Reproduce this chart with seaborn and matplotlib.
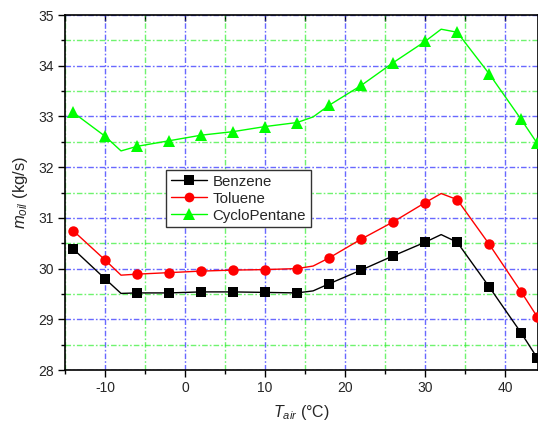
import matplotlib
matplotlib.use("Agg")
import matplotlib.pyplot as plt
from matplotlib.lines import Line2D
from matplotlib.ticker import MultipleLocator, NullFormatter
import seaborn as sns
import pandas as pd

# Air temperature (°C) and oil mass flow rate (kg/s) for each working fluid
t_air = [-14, -10, -8, -6, -2, 2, 6, 10, 14, 16, 18, 22, 26, 30, 32, 34, 38, 42, 44]
benzene = [30.39, 29.80, 29.51, 29.52, 29.52, 29.54, 29.54, 29.53, 29.52, 29.56,
           29.70, 29.97, 30.25, 30.52, 30.67, 30.52, 29.64, 28.73, 28.24]
toluene = [30.75, 30.17, 29.87, 29.89, 29.92, 29.95, 29.97, 29.98, 30.00, 30.05,
           30.21, 30.58, 30.92, 31.30, 31.48, 31.36, 30.48, 29.54, 29.05]
cyclopentane = [33.08, 32.61, 32.32, 32.41, 32.52, 32.63, 32.70, 32.80, 32.88, 32.99,
                33.22, 33.61, 34.06, 34.48, 34.72, 34.66, 33.84, 32.94, 32.47]
series_names = ["Benzene", "Toluene", "CycloPentane"]

# indices of points that carry a symbol (turning points are drawn without one)
marked = [i for i, t in enumerate(t_air) if t not in (-8, 16, 32)]

sns.set_style("white")
plt.rcParams["font.family"] = ["Liberation Sans", "DejaVu Sans"]
plt.rcParams["mathtext.fontset"] = "custom"
plt.rcParams["mathtext.rm"] = "Liberation Sans"
plt.rcParams["mathtext.it"] = "Liberation Sans:italic"
plt.rcParams["axes.unicode_minus"] = False

df = pd.DataFrame({"T": t_air, "Benzene": benzene, "Toluene": toluene,
                   "CycloPentane": cyclopentane})

fig = plt.figure(figsize=(5.38, 4.26), dpi=100)
ax = fig.add_axes([65 / 538, 1 - 370 / 426, 473 / 538, 355 / 426])

styles = {
    "Benzene": dict(color="black", marker="s", markersize=7.5),
    "Toluene": dict(color="#ff0000", marker="o", markersize=7.5),
    "CycloPentane": dict(color="#00ff00", marker="^", markersize=8.5),
}

for name in series_names:
    st = styles[name]
    sns.lineplot(data=df, x="T", y=name, ax=ax, color=st["color"],
                 marker=st["marker"], markersize=st["markersize"],
                 markeredgewidth=0, markevery=marked, linewidth=1.0,
                 clip_on=True, zorder=3)

ax.set_xlim(-15, 44.1)
ax.set_ylim(28, 35)
ax.xaxis.set_major_locator(MultipleLocator(10))
ax.xaxis.set_minor_locator(MultipleLocator(5))
ax.yaxis.set_major_locator(MultipleLocator(1))
ax.yaxis.set_minor_locator(MultipleLocator(0.5))

dashdot = (0, (4, 1.5, 1.2, 1.5))
ax.grid(which="major", color="#2a2aff", alpha=0.7, linestyle=dashdot, linewidth=1.0)
ax.grid(which="minor", color="#22ee22", alpha=0.65, linestyle=dashdot, linewidth=1.0)
ax.set_axisbelow(True)

ax.tick_params(which="major", direction="out", length=5, width=1.0,
               labelsize=10, color="black", bottom=True, left=True, pad=3)
ax.tick_params(which="minor", direction="out", length=3, width=1.0,
               color="black", bottom=True, left=True)
for side in ["left", "bottom", "top", "right"]:
    ax.spines[side].set_color("black")
    ax.spines[side].set_linewidth(1.2)

# short inward ticks along the top edge
top = ax.secondary_xaxis("top")
top.xaxis.set_major_locator(MultipleLocator(10))
top.xaxis.set_minor_locator(MultipleLocator(5))
top.xaxis.set_major_formatter(NullFormatter())
top.tick_params(which="both", direction="in", length=4, width=1.0, color="black")
top.spines["top"].set_visible(False)

ax.set_xlabel(r"$T_{air}$ (°C)", fontsize=11.5, labelpad=6)
ax.set_ylabel(r"$m_{oil}$ (kg/s)", fontsize=12, labelpad=6)

handles = [Line2D([], [], color=styles[n]["color"], marker=styles[n]["marker"],
                  markersize=styles[n]["markersize"] - 0.5, markeredgewidth=0,
                  linewidth=1.0, label=n) for n in series_names]
leg = ax.legend(handles=handles, loc="upper left", bbox_to_anchor=(0.214, 0.563),
                borderaxespad=0, fontsize=10.8, frameon=True, fancybox=False,
                shadow=False, framealpha=1, edgecolor="#333333",
                handlelength=2.4, handletextpad=0.4, labelspacing=0.2,
                borderpad=0.3)
leg.get_frame().set_linewidth(1.0)

fig.savefig("out.png", dpi=100)
